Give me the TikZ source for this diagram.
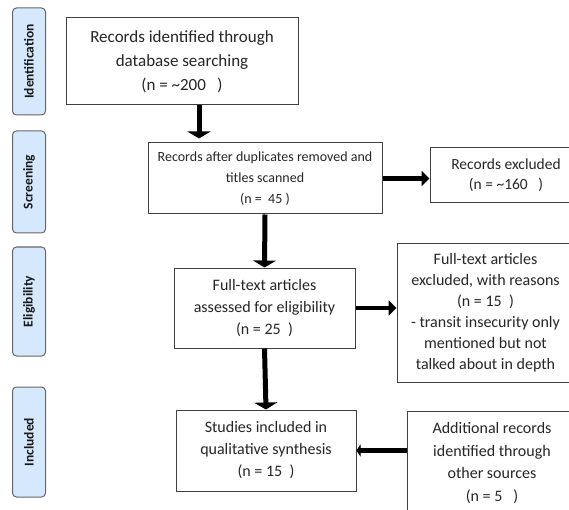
\documentclass[tikz,border=0pt]{standalone}
\usepackage{fontspec}
\setmainfont{Carlito}
\usetikzlibrary{arrows.meta}
\definecolor{phasefill}{HTML}{D6E9FC}
\begin{document}
\begin{tikzpicture}[x=1pt,y=-1pt,
  box/.style={draw=black!75, line width=1pt, fill=white, align=center, inner sep=0pt, text=black!85},
  phase/.style={draw=black!60, line width=1pt, fill=phasefill, rounded corners=4pt, rotate=90,
    minimum height=33pt, inner sep=0pt, text=black!90, font=\bfseries\fontsize{13.5}{15}\selectfont},
  varr/.style={line width=5pt, -{Triangle[width=23pt,length=7pt]}},
  harr/.style={line width=4.5pt, -{Triangle[width=15pt,length=8pt]}},
  larr/.style={line width=4.5pt, -{Triangle[width=12pt,length=4pt]}}]
\useasboundingbox (0,0) rectangle (569,510);
\clip (0,0) rectangle (569,510);
% phase labels
\node[phase, minimum width=107pt] (pid) at (29,61.5) {Identification};
\node[phase, minimum width=102pt] (psc) at (29,182) {Screening};
\node[phase, minimum width=109pt] (pel) at (29,301.5) {Eligibility};
\node[phase, minimum width=110pt] (pin) at (29,442) {Included};
% boxes
\node[box, minimum width=232pt, minimum height=87pt, font=\fontsize{17}{24}\selectfont] (b1) at (182,61.5)
  {Records identified through\\database searching\\(n = \textasciitilde200\ \ \ )};
\node[box, minimum width=234pt, minimum height=71pt, font=\fontsize{14}{21}\selectfont] (b2) at (265,178.5)
  {Records after duplicates removed and\\titles scanned\\(n =\ \ 45 )};
\node[box, minimum width=152pt, minimum height=55pt, font=\fontsize{15.5}{20}\selectfont] (e1) at (506,175.5)
  {Records excluded\\(n = \textasciitilde160\ \ \ )};
\node[box, minimum width=181pt, minimum height=80pt, font=\fontsize{16}{22}\selectfont] (b3) at (264.5,308)
  {Full-text articles\\assessed for eligibility\\(n = 25\ \ )};
\node[box, minimum width=177pt, minimum height=138pt, font=\fontsize{16}{21}\selectfont] (e2) at (485.5,313)
  {Full-text articles\\excluded, with reasons\\(n = 15\ \ )\\- transit insecurity only\\mentioned but not\\talked about in depth};
\node[box, minimum width=180pt, minimum height=81pt, font=\fontsize{16}{22}\selectfont] (b4) at (266,450.5)
  {Studies included in\\qualitative synthesis\\(n = 15\ \ )};
\node[box, minimum width=170pt, minimum height=104pt, font=\fontsize{16}{22.5}\selectfont] (a1) at (492,463)
  {Additional records\\identified through\\other sources\\(n = 5\ \ \ )};
% connectors
\coordinate (k1) at ([xshift=17pt]b1.south);
\draw[varr, shorten >=4pt] (k1) -- (k1 |- b2.north);
\draw[varr] (b2.south) -- (b3.north);
\draw[varr] (b3.south) -- (b4.north);
\draw[harr] (b2.east) -- (b2.east -| e1.west);
\draw[harr] (b3.east) -- (b3.east -| e2.west);
\draw[larr] (b4.east -| a1.west) -- (b4.east);
\end{tikzpicture}
\end{document}
